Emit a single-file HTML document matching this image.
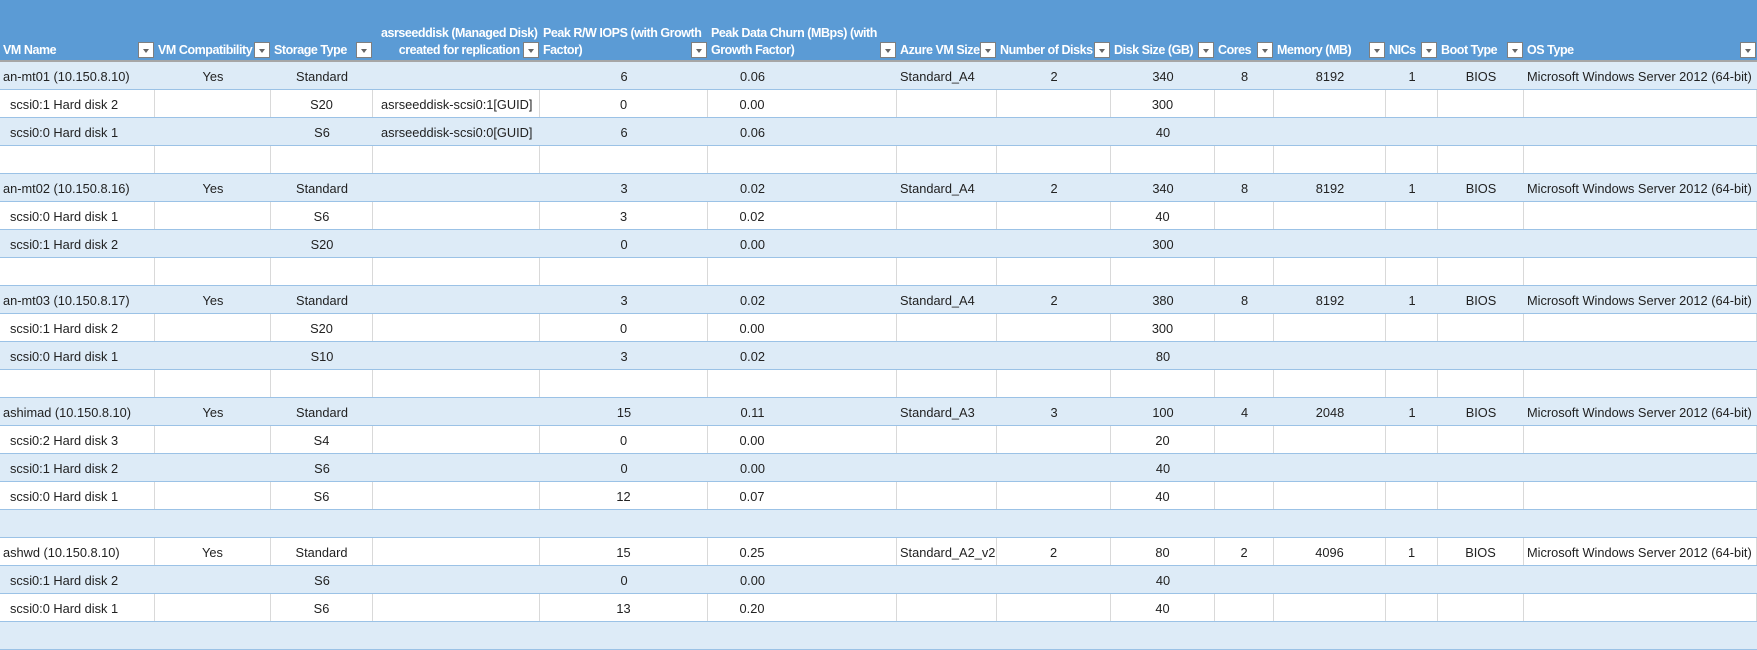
<!DOCTYPE html>
<html><head><meta charset="utf-8">
<style>
html,body{margin:0;width:1757px;height:650px;overflow:hidden;background:#fff;font-family:"Liberation Sans",Arial,sans-serif;}
.hdr{position:absolute;left:0;top:0;width:1757px;height:60px;background:#5b9bd5;border-bottom:2px solid #a6a6a6;}
.h{position:absolute;top:0;height:60px;color:#fff;font-weight:bold;font-size:12.5px;letter-spacing:-0.45px;line-height:17px;}
.h .t{position:absolute;left:3px;bottom:1px;white-space:nowrap;}
.dd{position:absolute;right:1px;bottom:2px;width:16px;height:16px;background:#fff;border:1px solid #7f7f7f;box-sizing:border-box;}
.dd:after{content:"";position:absolute;left:4px;top:6px;border-left:3.5px solid transparent;border-right:3.5px solid transparent;border-top:4px solid #666;}
.row{position:absolute;left:0;width:1757px;height:28px;box-sizing:border-box;border-bottom:1px solid #9bc2e6;display:flex;font-size:12.8px;color:#222;}
.b{background:#ddebf7;}
.w{background:#fff;}
.c{box-sizing:border-box;height:27px;line-height:30px;white-space:nowrap;overflow:hidden;text-align:center;}
.w .c{border-right:1px solid #d9d9d9;}
.l{text-align:left;padding-left:3px;}
.i{text-align:left;padding-left:10px;}
.a{text-align:left;padding-left:8px;}
.ch{padding-right:100px;}
</style></head><body>
<div class="hdr">
<div class="h" style="left:0;width:155px"><span class="t">VM Name</span><div class="dd"></div></div>
<div class="h" style="left:155px;width:116px"><span class="t">VM Compatibility</span><div class="dd"></div></div>
<div class="h" style="left:271px;width:102px"><span class="t">Storage Type</span><div class="dd"></div></div>
<div class="h" style="left:373px;width:167px"><span class="t" style="text-align:center;left:8px">asrseeddisk (Managed Disk)<br>created for replication</span><div class="dd"></div></div>
<div class="h" style="left:540px;width:168px"><span class="t">Peak R/W IOPS (with Growth<br>Factor)</span><div class="dd"></div></div>
<div class="h" style="left:708px;width:189px"><span class="t">Peak Data Churn (MBps) (with<br>Growth Factor)</span><div class="dd"></div></div>
<div class="h" style="left:897px;width:100px"><span class="t">Azure VM Size</span><div class="dd"></div></div>
<div class="h" style="left:997px;width:114px"><span class="t">Number of Disks</span><div class="dd"></div></div>
<div class="h" style="left:1111px;width:104px"><span class="t">Disk Size (GB)</span><div class="dd"></div></div>
<div class="h" style="left:1215px;width:59px"><span class="t">Cores</span><div class="dd"></div></div>
<div class="h" style="left:1274px;width:112px"><span class="t">Memory (MB)</span><div class="dd"></div></div>
<div class="h" style="left:1386px;width:52px"><span class="t">NICs</span><div class="dd"></div></div>
<div class="h" style="left:1438px;width:86px"><span class="t">Boot Type</span><div class="dd"></div></div>
<div class="h" style="left:1524px;width:233px"><span class="t">OS Type</span><div class="dd"></div></div>
</div>
<div id="rows"></div>
<script>
var W=[155,116,102,167,168,189,100,114,104,59,112,52,86,233];
var D=[
["an-mt01 (10.150.8.10)","Yes","Standard","","6","0.06","Standard_A4","2","340","8","8192","1","BIOS","Microsoft Windows Server 2012 (64-bit)"],
["*scsi0:1 Hard disk 2","","S20","asrseeddisk-scsi0:1[GUID]","0","0.00","","","300"],
["*scsi0:0 Hard disk 1","","S6","asrseeddisk-scsi0:0[GUID]","6","0.06","","","40"],
[],
["an-mt02 (10.150.8.16)","Yes","Standard","","3","0.02","Standard_A4","2","340","8","8192","1","BIOS","Microsoft Windows Server 2012 (64-bit)"],
["*scsi0:0 Hard disk 1","","S6","","3","0.02","","","40"],
["*scsi0:1 Hard disk 2","","S20","","0","0.00","","","300"],
[],
["an-mt03 (10.150.8.17)","Yes","Standard","","3","0.02","Standard_A4","2","380","8","8192","1","BIOS","Microsoft Windows Server 2012 (64-bit)"],
["*scsi0:1 Hard disk 2","","S20","","0","0.00","","","300"],
["*scsi0:0 Hard disk 1","","S10","","3","0.02","","","80"],
[],
["ashimad (10.150.8.10)","Yes","Standard","","15","0.11","Standard_A3","3","100","4","2048","1","BIOS","Microsoft Windows Server 2012 (64-bit)"],
["*scsi0:2 Hard disk 3","","S4","","0","0.00","","","20"],
["*scsi0:1 Hard disk 2","","S6","","0","0.00","","","40"],
["*scsi0:0 Hard disk 1","","S6","","12","0.07","","","40"],
[],
["ashwd (10.150.8.10)","Yes","Standard","","15","0.25","Standard_A2_v2","2","80","2","4096","1","BIOS","Microsoft Windows Server 2012 (64-bit)"],
["*scsi0:1 Hard disk 2","","S6","","0","0.00","","","40"],
["*scsi0:0 Hard disk 1","","S6","","13","0.20","","","40"],
[]
];
var h="";
D.forEach(function(r,k){
 h+='<div class="row '+(k%2?'w':'b')+'" style="top:'+(62+k*28)+'px">';
 for(var j=0;j<14;j++){
  var v=r[j]||"",cl="c";
  if(j==0){ if(v[0]=="*"){v=v.slice(1);cl+=" i";} else cl+=" l"; }
  if(j==3)cl+=" a"; if(j==5)cl+=" ch"; if(j==6||j==13)cl+=" l";
  h+='<div class="'+cl+'" style="width:'+W[j]+'px">'+v+'</div>';
 }
 h+='</div>';
});
document.getElementById("rows").innerHTML=h;
</script>
</body></html>
